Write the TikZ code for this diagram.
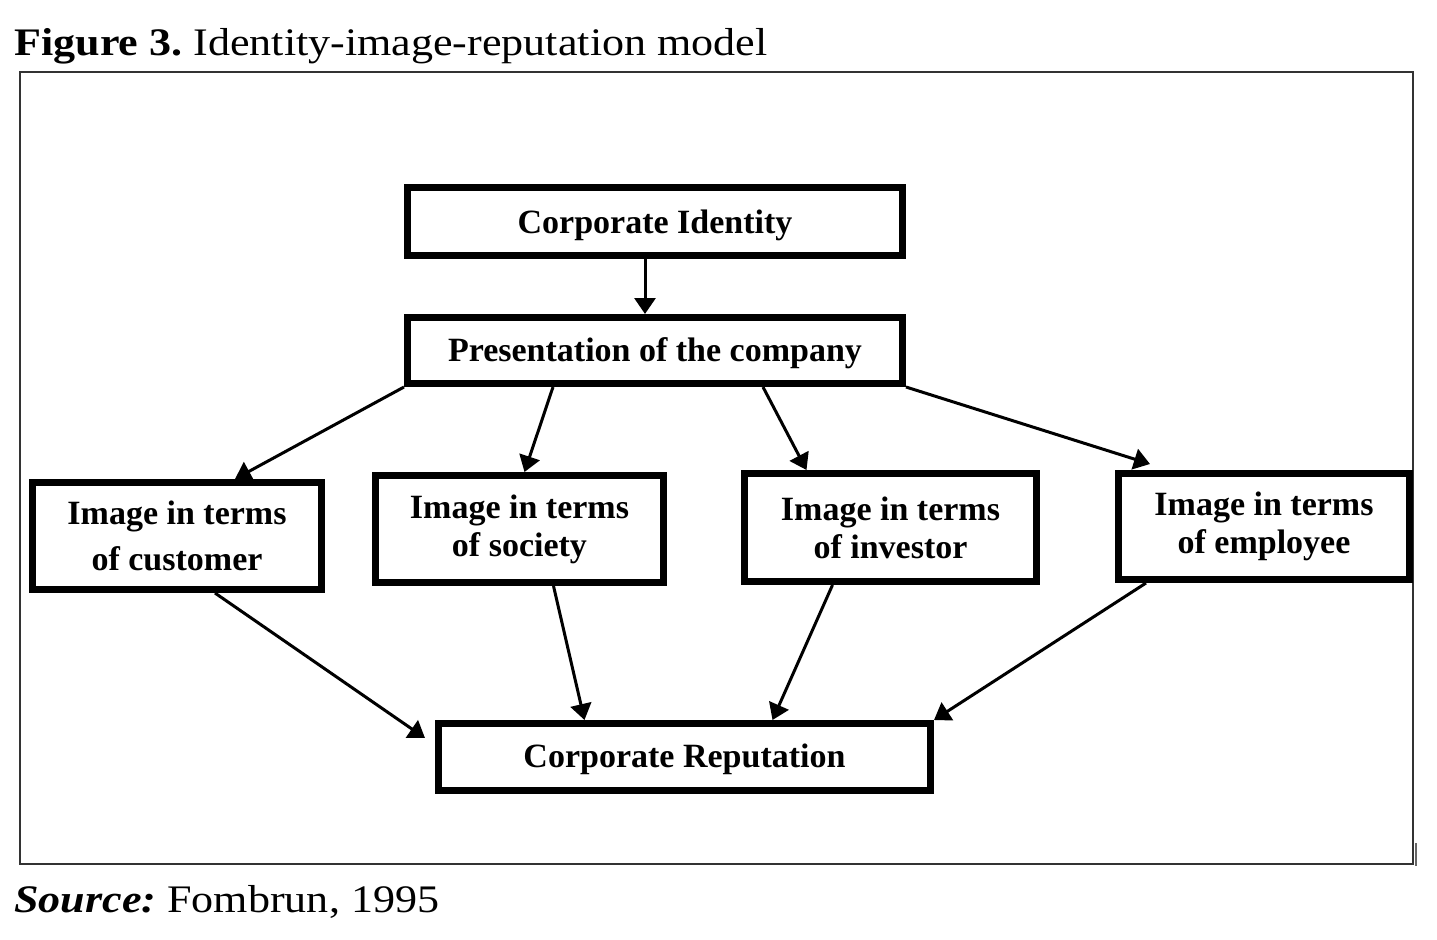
\documentclass[tikz,border=0pt]{standalone}
\usepackage{fontspec}
\setmainfont{Liberation Serif}
\newfontfamily\capfont[FakeStretch=1.13]{Liberation Serif}
\usetikzlibrary{arrows.meta,calc}
\begin{document}
\frenchspacing
\begin{tikzpicture}[x=0.5pt,y=-0.5pt,
  box/.style={draw=black,line width=3.5pt,fill=white,inner sep=0pt,align=center,
    font=\fontsize{17}{19}\selectfont\bfseries},
  arr/.style={line width=1.5pt,-{Triangle[length=8pt,width=10.5pt]}},
  lbl/.style={inner sep=0pt,anchor=base west}]
\useasboundingbox (0,0) rectangle (1437,939);
\fill[white] (0,0) rectangle (1437,939);
\node[lbl,font=\capfont\fontsize{19.5}{21}\selectfont] (title) at (14,55) {\textbf{Figure 3.} Identity-image-reputation model};
\draw[line width=1pt,black!80] (20,72) rectangle (1413,864);
\draw[line width=1pt,black!60] (1416,843) -- (1416,866);
\node[box,minimum width=247.5pt,minimum height=34pt,text height=16pt] (ci) at (655,221.5) {Corporate Identity};
\node[box,minimum width=247.5pt,minimum height=33pt,text height=15pt] (pres) at (655,350.5) {Presentation of the company};
\node[box,minimum width=144.5pt,minimum height=53.5pt,font=\fontsize{17}{23}\selectfont\bfseries] (cust) at (177,536) {Image in terms\\of customer};
\node[box,minimum width=144pt,minimum height=53.5pt] (soc) at (519.5,529) {Image in terms\\of society};
\node[box,minimum width=146pt,minimum height=54pt] (inv) at (890.5,527.5) {Image in terms\\of investor};
\node[box,minimum width=145.5pt,minimum height=53pt] (emp) at (1264,526.5) {Image in terms\\of employee};
\node[box,minimum width=246pt,minimum height=33.5pt,text height=14pt] (rep) at (684.5,757) {Corporate Reputation};
\draw[arr] ($(ci.south)+(-10,0)$) -- ($(pres.north)+(-10,0)$);
\draw[arr] (pres.south west) -- ($(cust.north)+(58,0)$);
\draw[arr] ($(pres.south)+(-102,0)$) -- ($(soc.north)+(5,0)$);
\draw[arr] ($(pres.south)+(108,0)$) -- ($(inv.north)+(-84,0)$);
\draw[arr] (pres.south east) -- ($(emp.north)+(-114,-6)$);
\draw[arr] ($(cust.south)+(38,0)$) -- ($(rep.north west)+(-10,18)$);
\draw[arr] ($(soc.south)+(34,0)$) -- ($(rep.north)+(-100,0)$);
\draw[arr] ($(inv.south)+(-58,0)$) -- ($(rep.north)+(88,0)$);
\draw[arr] ($(emp.south)+(-118,0)$) -- ($(rep.north east)+(0,0)$);
\node[lbl,font=\capfont\fontsize{19.5}{21}\selectfont] (src) at (14,912) {\textbf{\textit{Source:}} Fombrun, 1995};
\end{tikzpicture}
\end{document}
